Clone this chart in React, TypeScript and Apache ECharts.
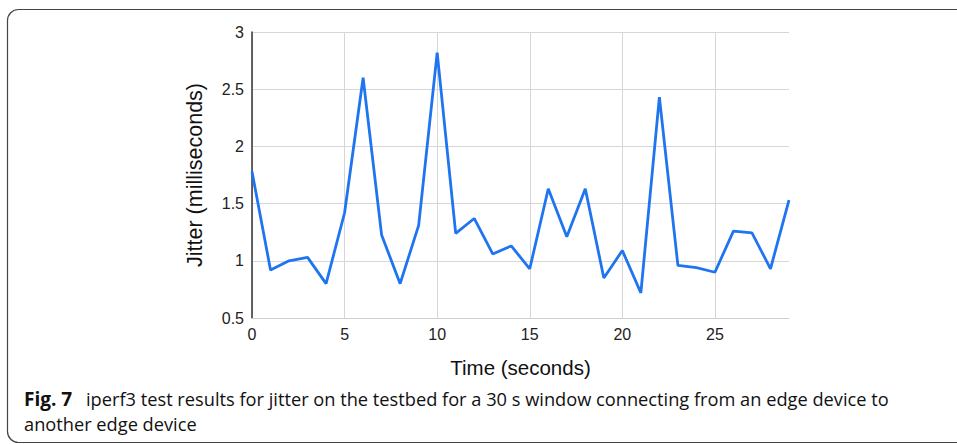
import React, { useEffect, useRef } from "react";
import * as echarts from "echarts";

const times: number[] = [0,1,2,3,4,5,6,7,8,9,10,11,12,13,14,15,16,17,18,19,20,21,22,23,24,25,26,27,28,29];
const jitter: number[] = [1.78,0.92,1.0,1.03,0.8,1.42,2.6,1.225,0.8,1.31,2.82,1.24,1.37,1.06,1.13,0.93,1.63,1.21,1.63,0.85,1.09,0.72,2.43,0.96,0.94,0.9,1.26,1.245,0.93,1.53];
const yTicks = { min: 0.5, max: 3, interval: 0.5 };
const xTicks = { min: 0, max: 29, interval: 5 };
const xTitle = "Time (seconds)";
const yTitle = "Jitter (milliseconds)";
const captionBold = "Fig. 7";
const captionLine1 = "iperf3 test results for jitter on the testbed for a 30 s window connecting from an edge device to";
const captionLine2 = "another edge device";

export default function App() {
  const ref = useRef<HTMLDivElement>(null);
  useEffect(() => {
    if (!ref.current) return;
    const chart = echarts.init(ref.current, undefined, { renderer: "svg" });
    const axisFont = "Liberation Sans, Arial, sans-serif";
    const capFont = "Open Sans, sans-serif";
    chart.setOption({
      animation: false,
      backgroundColor: "#ffffff",
      grid: { left: 252, right: 168, top: 32, bottom: 126 },
      xAxis: {
        type: "value",
        min: xTicks.min,
        max: xTicks.max,
        interval: xTicks.interval,
        name: xTitle,
        nameLocation: "middle",
        nameGap: 39,
        nameTextStyle: { fontFamily: axisFont, fontSize: 20.5, color: "#111" },
        axisLine: { show: true, lineStyle: { color: "#d0d0d0", width: 1 } },
        axisTick: { show: false },
        axisLabel: { fontFamily: axisFont, fontSize: 16, color: "#222", margin: 8, showMaxLabel: false },
        splitLine: { show: true, showMaxLine: false, lineStyle: { color: "#d6d6d6", width: 1 } },
      },
      yAxis: {
        type: "value",
        min: yTicks.min,
        max: yTicks.max,
        interval: yTicks.interval,
        name: yTitle,
        nameLocation: "middle",
        nameGap: 46,
        nameTextStyle: { fontFamily: axisFont, fontSize: 21.5, color: "#111" },
        axisLine: { show: true, lineStyle: { color: "#333", width: 1.5 } },
        axisTick: { show: false },
        axisLabel: { fontFamily: axisFont, fontSize: 16, color: "#222", margin: 8 },
        splitLine: { show: true, lineStyle: { color: "#d6d6d6", width: 1 } },
      },
      series: [
        {
          type: "line",
          data: times.map((t, i) => [t, jitter[i]]),
          showSymbol: false,
          symbol: "none",
          lineStyle: { color: "#1f74f0", width: 2.8 },
          z: 5,
        },
      ],
      graphic: [
        {
          type: "rect",
          shape: { x: 7.5, y: 9.5, width: 1000, height: 433, r: 11 },
          style: { fill: "none", stroke: "#444", lineWidth: 1.2 },
          silent: true,
          z: -1,
        },
        {
          type: "text",
          x: 24,
          y: 398.5,
          style: { text: captionBold, fontFamily: capFont, fontSize: 19, fontWeight: "bold", fill: "#111", verticalAlign: "middle" },
        },
        {
          type: "text",
          x: 86,
          y: 398.5,
          scaleX: 0.96,
          style: { text: captionLine1, fontFamily: capFont, fontSize: 19, fill: "#111", verticalAlign: "middle" },
        },
        {
          type: "text",
          x: 24,
          y: 423,
          scaleX: 0.96,
          style: { text: captionLine2, fontFamily: capFont, fontSize: 19, fill: "#111", verticalAlign: "middle" },
        },
      ],
    });
    return () => chart.dispose();
  }, []);
  return <div ref={ref} style={{ position: "absolute", left: 0, top: 0, width: 957, height: 444 }} />;
}
